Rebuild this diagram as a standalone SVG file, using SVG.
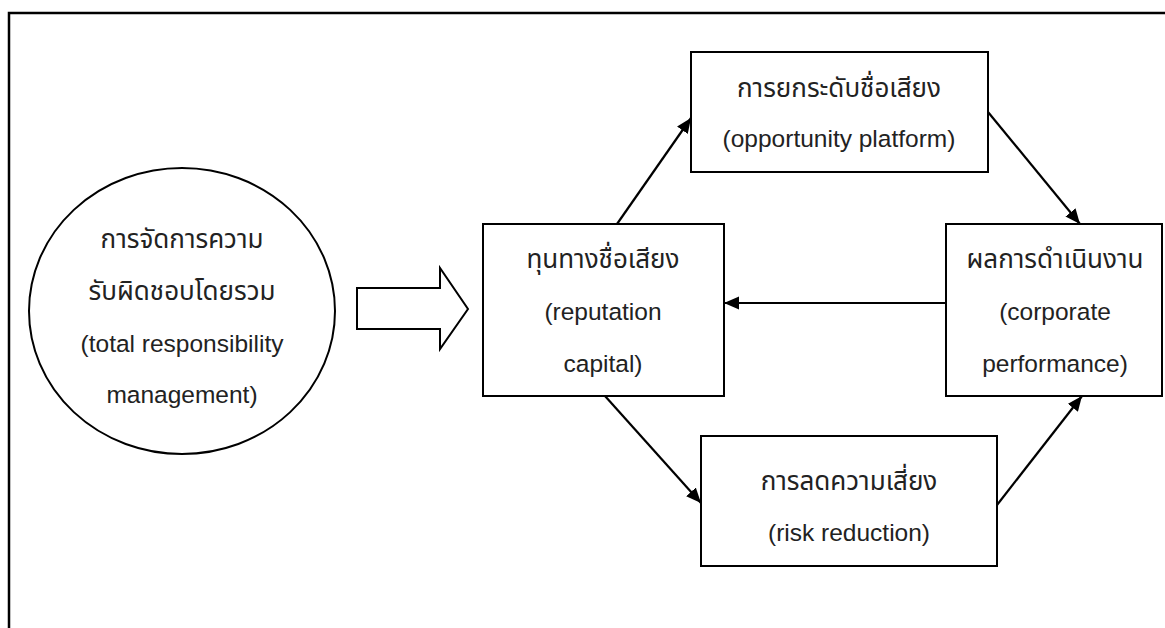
<svg xmlns="http://www.w3.org/2000/svg" width="1165" height="628" viewBox="0 0 1165 628">
  <defs>
    <style>
      .shape { fill: #fff; stroke: #000; stroke-width: 2; }
      .frame { fill: none; stroke: #000; stroke-width: 2.5; }
      .link { fill: none; stroke: #000; stroke-width: 2.2; }
      .label { font-family: "Liberation Sans", "Noto Sans Thai", "Noto Sans", sans-serif; font-size: 24.5px; fill: #222; text-anchor: middle; }
      .th { font-size: 26px; }
    </style>
    <marker id="arrow" markerUnits="userSpaceOnUse" markerWidth="16" markerHeight="14" refX="15" refY="6.5" orient="auto">
      <path d="M0,0 L15,6.5 L0,13 z" fill="#000"/>
    </marker>
  </defs>
  <rect width="1165" height="628" fill="#fff"/>

  <!-- page frame -->
  <path class="frame" d="M9,628 V13 H1165"/>

  <!-- total responsibility management -->
  <g id="trm">
    <ellipse class="shape" cx="182" cy="311" rx="153" ry="143"/>
    <text class="label th" x="182" y="248">การจัดการความ</text>
    <text class="label th" x="182" y="300">รับผิดชอบโดยรวม</text>
    <text class="label" x="182" y="352">(total responsibility</text>
    <text class="label" x="182" y="403">management)</text>
  </g>

  <!-- block arrow into reputation capital -->
  <g id="block-arrow">
    <polygon class="shape" points="357,288 440,288 440,268 468,309 440,349 440,329 357,329"/>
  </g>

  <g id="reputation">
    <rect class="shape" x="483" y="224" width="241" height="172"/>
    <text class="label th" x="603" y="268">ทุนทางชื่อเสียง</text>
    <text class="label" x="603" y="320">(reputation</text>
    <text class="label" x="603" y="372">capital)</text>
  </g>

  <g id="opportunity">
    <rect class="shape" x="691" y="52" width="297" height="120"/>
    <text class="label th" x="839" y="97">การยกระดับชื่อเสียง</text>
    <text class="label" x="839" y="147">(opportunity platform)</text>
  </g>

  <g id="performance">
    <rect class="shape" x="946" y="224" width="216" height="172"/>
    <text class="label th" x="1055" y="268">ผลการดำเนินงาน</text>
    <text class="label" x="1055" y="320">(corporate</text>
    <text class="label" x="1055" y="372">performance)</text>
  </g>

  <g id="risk">
    <rect class="shape" x="701" y="436" width="296" height="130"/>
    <text class="label th" x="849" y="490">การลดความเสี่ยง</text>
    <text class="label" x="849" y="541">(risk reduction)</text>
  </g>

  <g id="connectors">
    <line class="link" x1="617" y1="224" x2="691" y2="118" marker-end="url(#arrow)"/>
    <line class="link" x1="988" y1="112" x2="1080" y2="224" marker-end="url(#arrow)"/>
    <line class="link" x1="946" y1="303" x2="724" y2="303" marker-end="url(#arrow)"/>
    <line class="link" x1="605" y1="396" x2="701" y2="503" marker-end="url(#arrow)"/>
    <line class="link" x1="997" y1="505" x2="1082" y2="396" marker-end="url(#arrow)"/>
  </g>
</svg>
